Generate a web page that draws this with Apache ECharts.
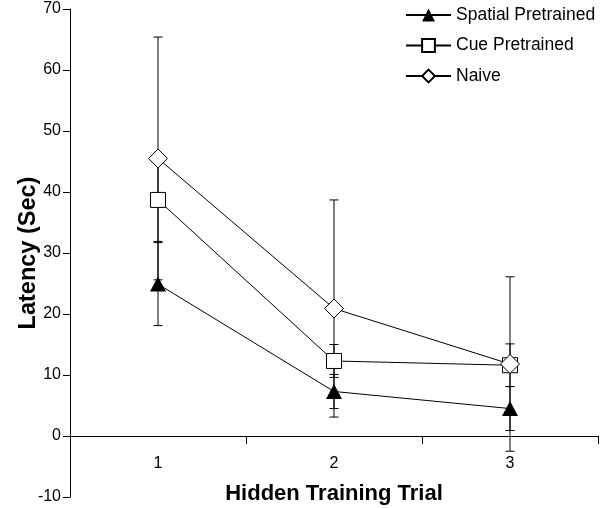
<!DOCTYPE html>
<html>
<head>
<meta charset="utf-8">
<script src="https://cdn.jsdelivr.net/npm/echarts@6/dist/echarts.min.js"></script>
<style>
html,body{margin:0;padding:0;background:#fff;}
#chart{width:600px;height:508px;}
</style>
</head>
<body>
<div id="chart"></div>
<script>
var categories = ['1', '2', '3'];
var yTicks = { min: -10, max: 70, interval: 10 };

var spatialMean = [24.9, 7.3, 4.5];
var spatialErr = [6.8, 2.8, 3.6];
var cueMean = [38.7, 12.3, 11.6];
var cueErr = [6.8, 2.7, 3.5];
var naiveMean = [45.5, 20.9, 11.8];
var naiveErr = [19.9, 17.8, 14.3];

var seriesNames = ['Spatial Pretrained', 'Cue Pretrained', 'Naive'];

var FONT = "'Liberation Sans', Arial, Helvetica, sans-serif";

function errData(mean, err) {
  return mean.map(function (m, i) { return [i, m - err[i], m + err[i]]; });
}

function errSeries(mean, err) {
  return {
    type: 'custom',
    z: 1,
    silent: true,
    data: errData(mean, err),
    encode: { x: 0, y: [1, 2] },
    renderItem: function (params, api) {
      var xi = api.value(0);
      var lo = api.coord([xi, api.value(1)]);
      var hi = api.coord([xi, api.value(2)]);
      var hw = 4.5;
      var st = { stroke: '#000', lineWidth: 1, fill: null };
      return {
        type: 'group',
        children: [
          { type: 'line', shape: { x1: hi[0], y1: hi[1], x2: lo[0], y2: lo[1] }, style: st },
          { type: 'line', shape: { x1: hi[0] - hw, y1: hi[1], x2: hi[0] + hw, y2: hi[1] }, style: st },
          { type: 'line', shape: { x1: lo[0] - hw, y1: lo[1], x2: lo[0] + hw, y2: lo[1] }, style: st }
        ]
      };
    }
  };
}

var chart = echarts.init(document.getElementById('chart'), null, { renderer: 'canvas' });

chart.setOption({
  animation: false,
  backgroundColor: '#fff',
  textStyle: { fontFamily: FONT },
  grid: { left: 70, right: 2, top: 9, bottom: 11, containLabel: false, outerBoundsMode: 'none' },
  legend: {
    data: seriesNames,
    orient: 'vertical',
    left: 405,
    top: 6,
    padding: 0,
    itemWidth: 45,
    itemHeight: 16,
    itemGap: 12.5,
    textStyle: { fontFamily: FONT, fontSize: 17.5, color: '#000' },
    selectedMode: false
  },
  xAxis: {
    type: 'category',
    data: categories,
    boundaryGap: true,
    name: 'Hidden Training Trial',
    nameLocation: 'middle',
    nameGap: -14,
    nameMoveOverlap: false,
    nameTextStyle: { fontFamily: FONT, fontSize: 22, fontWeight: 'bold', color: '#000' },
    axisLine: { onZero: true, lineStyle: { color: '#000', width: 1 } },
    axisTick: { show: true, length: 8, inside: false, lineStyle: { color: '#000' } },
    axisLabel: { fontFamily: FONT, fontSize: 16, color: '#000', margin: -41 },
    splitLine: { show: false }
  },
  yAxis: {
    type: 'value',
    min: yTicks.min,
    max: yTicks.max,
    interval: yTicks.interval,
    name: 'Latency (Sec)',
    nameLocation: 'middle',
    nameGap: 29,
    nameMoveOverlap: false,
    nameTextStyle: { fontFamily: FONT, fontSize: 23.5, fontWeight: 'bold', color: '#000' },
    axisLine: { show: true, lineStyle: { color: '#000', width: 1 } },
    axisTick: { show: true, length: 7, inside: false, lineStyle: { color: '#000' } },
    axisLabel: { fontFamily: FONT, fontSize: 16, color: '#000', margin: 9 },
    splitLine: { show: false }
  },
  series: [
    errSeries(spatialMean, spatialErr),
    errSeries(cueMean, cueErr),
    errSeries(naiveMean, naiveErr),
    {
      name: seriesNames[0],
      type: 'line',
      z: 3,
      data: spatialMean,
      symbol: 'triangle',
      symbolSize: [16, 15],
      showAllSymbol: true,
      lineStyle: { color: '#000', width: 1 },
      itemStyle: { color: '#000', borderColor: '#000', borderWidth: 0 }
    },
    {
      name: seriesNames[1],
      type: 'line',
      z: 4,
      data: cueMean,
      symbol: 'rect',
      symbolSize: 15,
      showAllSymbol: true,
      lineStyle: { color: '#000', width: 1 },
      itemStyle: { color: '#fff', borderColor: '#000', borderWidth: 1 }
    },
    {
      name: seriesNames[2],
      type: 'line',
      z: 5,
      data: naiveMean,
      symbol: 'diamond',
      symbolSize: 19,
      showAllSymbol: true,
      lineStyle: { color: '#000', width: 1 },
      itemStyle: { color: '#fff', borderColor: '#000', borderWidth: 1 }
    }
  ]
});
</script>
</body>
</html>
